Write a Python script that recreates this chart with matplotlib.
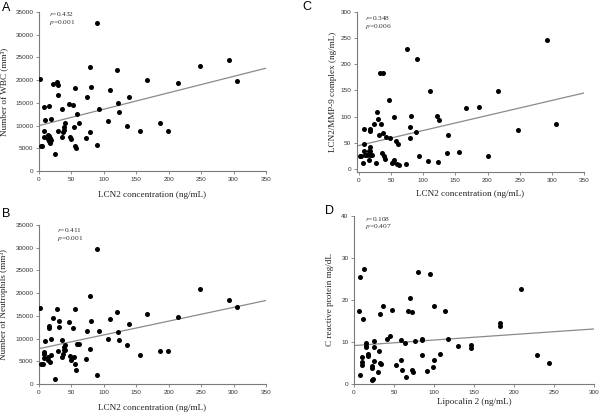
import numpy as np
import matplotlib
matplotlib.use("Agg")
import matplotlib.pyplot as plt

# panel A: LCN2 vs WBC
a_x = [1, 3, 5, 7, 7, 7, 10, 14, 14, 15, 16, 16, 17, 17, 18, 18.5, 22, 24, 27, 29, 30, 30,
       35, 35, 37, 38, 39, 40, 46, 48, 49, 52, 54, 55, 56, 57.5, 59, 61, 72.5, 74.5, 78, 78,
       80, 89, 89.5, 93, 106, 110, 121, 122, 124, 136, 138, 155, 166, 186, 199, 215, 248,
       293, 305]
a_y = [20200, 5600, 5400, 14000, 8700, 7500, 11200, 8000, 7000, 7700, 14300, 6500, 6100, 7200,
       6800, 11400, 19200, 3700, 19600, 8800, 16700, 19000, 13600, 7400, 8500, 9000, 9600,
       10500, 14700, 7400, 7000, 14600, 9600, 5500, 18200, 5100, 12600, 10600, 7300, 16200,
       23000, 8500, 18500, 5700, 32600, 13600, 11000, 17800, 22300, 14900, 12900, 9900,
       16200, 8700, 20000, 10600, 8700, 19300, 23200, 24400, 19800]

# panel B: LCN2 vs neutrophils
b_x = [1, 3, 5.6, 7, 7, 7, 10, 14, 14, 16, 16, 17, 18, 18.5, 22, 24.5, 28, 29, 30.5, 30.5,
       35, 35, 37, 38, 39, 40, 40, 46, 48, 49.5, 52, 54, 55, 56, 57.5, 59, 62, 72.5, 74.5,
       78, 78, 80, 89, 89.5, 93, 106, 110, 120, 122, 124, 136, 138, 155, 166, 186, 199, 215,
       248, 293, 305]
b_y = [16700, 4500, 4400, 7100, 6500, 5800, 9500, 6000, 5300, 12800, 12400, 4900, 6400, 9800,
       14600, 1100, 16400, 7300, 13900, 12500, 9700, 5900, 6700, 7500, 8200, 8600, 7400,
       13600, 6200, 5200, 12300, 5900, 4400, 16600, 3100, 8800, 8800, 5600, 11700, 19400,
       7700, 13900, 2000, 29800, 11700, 9800, 14200, 15900, 11500, 9600, 8600, 13300, 6400,
       15400, 7200, 7300, 14700, 21000, 18600, 16900]

# panel C: LCN2 vs LCN2/MMP-9 complex
c_x = [1, 3.6, 6, 8, 8, 8, 10, 12, 15, 15, 16.6, 16.6, 17, 17.5, 17, 20, 23, 26, 28.6, 29, 31,
       32, 35, 36, 38, 38, 39, 40, 42, 46, 49, 51, 53, 55, 55, 57, 59, 60, 63, 73, 75, 79.5,
       79.5, 80.6, 90, 89.5, 93.6, 107, 111, 122, 122.7, 125, 137, 139, 156, 166, 187, 200,
       216, 248, 293, 306]
c_y = [25.5, 24, 12, 76.6, 48.5, 34.5, 26, 27, 34.5, 16, 76, 73, 41, 34, 27, 27, 86, 11, 108,
       96, 64, 184, 86, 31, 184, 69, 24, 19, 61, 131, 59, 12, 13, 17, 99.5, 53, 9.6, 47, 7,
       9.6, 230, 59, 81, 101, 210, 70, 25, 15, 149, 101, 13, 92.5, 31, 65, 33, 115.5, 119,
       25.5, 148, 74, 246, 86]

# panel D: lipocalin 2 vs CRP
d_x = [6, 7.5, 8, 10, 10, 10, 11, 13, 15, 15, 15, 17.5, 18, 22, 23, 23, 24, 24.6, 25, 25.5,
       30.5, 31, 32.5, 33, 33.5, 36, 41, 45, 47.5, 52, 58.4, 59, 60.5, 63.4, 64.7, 68, 69.7,
       72.2, 73.4, 72.6, 76, 79.7, 84.7, 84.7, 85, 91, 94.7, 99, 100, 100, 107, 114, 118,
       130, 146.4, 146.4, 182, 182, 208.6, 228.6, 244]
d_y = [17.5, 25.4, 2.1, 5.2, 4.6, 6.5, 15.4, 27.5, 9.8, 9.0, 8.8, 6.7, 7.1, 4.2, 0.9, 3.8, 1.2,
       8.8, 5.4, 10.2, 2.9, 7.9, 16.7, 5.0, 4.7, 18.5, 10.8, 11.4, 17.7, 4.5, 10.4, 5.7, 3.3,
       9.7, 1.6, 17.5, 20.4, 3.3, 2.8, 17.2, 10.2, 26.7, 10.7, 10.4, 6.8, 3.1, 26.2, 4.1, 5.8,
       18.6, 7.1, 17.3, 10.7, 9.1, 9.2, 8.5, 14.6, 13.8, 22.7, 6.8, 5.0]

# regression lines: (intercept, slope)
fit_a = (10000, 36.1)
fit_b = (7780, 30.3)
fit_c = (44.7, 0.287)
fit_d = (9.15, 0.0132)

stats_a = ("0.432", "0.001")
stats_b = ("0.411", "0.001")
stats_c = ("0.348", "0.006")
stats_d = ("0.108", "0.407")

W, H = 600, 415
fig = plt.figure(figsize=(6, 4.15), dpi=100)
plt.rcParams["mathtext.fontset"] = "stix"

serif = "Liberation Serif"
sans = "Liberation Sans"
grey = "#7a7a7a"


def make_ax(l, t, r, b):
    ax = fig.add_axes([l / W, (H - b) / H, (r - l) / W, (b - t) / H])
    for s in ["top", "right"]:
        ax.spines[s].set_visible(False)
    for s in ["left", "bottom"]:
        ax.spines[s].set_color(grey)
        ax.spines[s].set_linewidth(0.8)
    ax.tick_params(labelsize=4.6, length=2, width=0.6, color=grey, labelcolor="#333333", pad=2)
    return ax


def panel(ax, x, y, fit, stats, xlim, ylim, xticks, yticks, xlabel, ylabel, txt_xy, dy, lx, ly):
    ax.scatter(x, y, s=13, color="black", zorder=3, linewidths=0)
    xs = np.array(xlim, dtype=float)
    ax.plot(xs, fit[0] + fit[1] * xs, color="#8a8a8a", lw=0.9)
    ax.set_xlim(*xlim)
    ax.set_ylim(*ylim)
    ax.set_xticks(xticks)
    ax.set_yticks(yticks)
    for lab in ax.get_xticklabels() + ax.get_yticklabels():
        lab.set_fontfamily(sans)
    ax.set_xlabel(xlabel, fontfamily=serif, fontsize=6.6, color="#222222")
    ax.set_ylabel(ylabel, fontfamily=serif, fontsize=6.6, color="#222222")
    ax.xaxis.set_label_coords(0.5, lx)
    ax.yaxis.set_label_coords(ly, 0.5)
    ax.text(txt_xy[0], txt_xy[1], r"$r$=" + stats[0], fontfamily=serif, fontsize=5.3,
            va="center", color="#333333")
    ax.text(txt_xy[0], txt_xy[1] - dy, r"$p$=" + stats[1], fontfamily=serif, fontsize=5.3,
            va="center", color="#333333")


ax_a = make_ax(39, 12, 266, 171)
panel(ax_a, a_x, a_y, fit_a, stats_a, (0, 350), (0, 35000), range(0, 351, 50),
      range(0, 35001, 5000), "LCN2 concentration (ng/mL)", "Number of WBC (mm³)",
      (16, 34600), 2000, -0.126, -0.137)

ax_b = make_ax(39, 225, 266, 384)
panel(ax_b, b_x, b_y, fit_b, stats_b, (0, 350), (0, 35000), range(0, 351, 50),
      range(0, 35001, 5000), "LCN2 concentration (ng/mL)", "Number of Neutrophils (mm³)",
      (28, 33900), 1900, -0.126, -0.137)

ax_c = make_ax(357, 12, 584, 172)
panel(ax_c, c_x, c_y, fit_c, stats_c, (-3, 350), (-6, 300), range(0, 351, 50),
      range(0, 301, 50), "LCN2 concentration (ng/mL)", "LCN2/MMP-9 complex (ng/mL)",
      (10, 288), 16, -0.113, -0.088)

ax_d = make_ax(354, 216, 594, 384)
panel(ax_d, d_x, d_y, fit_d, stats_d, (0, 300), (0, 40), range(0, 301, 50),
      range(0, 41, 10), "Lipocalin 2 (ng/mL)", "C reactive protein mg/dL",
      (14, 39.4), 1.9, -0.085, -0.083)

for letter, px, py in [("A", 2, 2), ("B", 2, 208), ("C", 302, 1), ("D", 325, 205)]:
    fig.text(px / W, 1 - py / H, letter, fontfamily=sans, fontsize=9, va="top", ha="left")

fig.savefig("out.png", dpi=100)
